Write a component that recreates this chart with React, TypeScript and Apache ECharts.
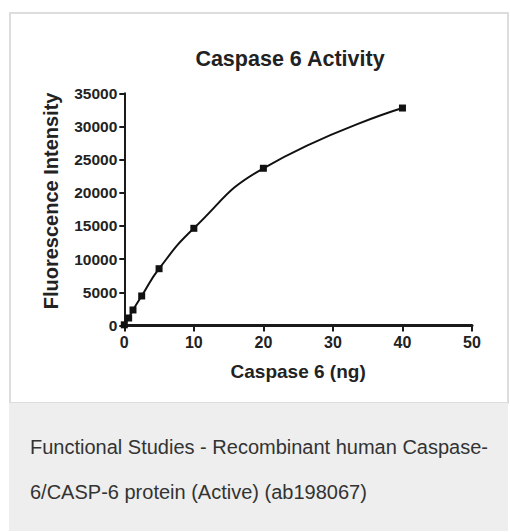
import React, { useEffect, useRef } from "react";
import * as echarts from "echarts";

// Data
const doseNg = [0, 0.625, 1.25, 2.5, 5, 10, 20, 40];
const fluorescence = [100, 1130, 2340, 4450, 8560, 14650, 23700, 32780];

const chartTitle = "Caspase 6 Activity";
const xAxisTitle = "Caspase 6 (ng)";
const yAxisTitle = "Fluorescence Intensity";
const captionLines = [
  "Functional Studies - Recombinant human Caspase-",
  "6/CASP-6 protein (Active) (ab198067)",
];

const FONT = "'Liberation Sans', Arial, Helvetica, sans-serif";
const INK = "#1a1a1a";

export default function App() {
  const ref = useRef<HTMLDivElement>(null);

  useEffect(() => {
    if (!ref.current) return;
    const chart = echarts.init(ref.current, undefined, { renderer: "svg" });
    const points = doseNg.map((x, i) => [x, fluorescence[i]]);
    chart.setOption({
      animation: false,
      backgroundColor: "#ffffff",
      title: {
        text: chartTitle,
        left: 290,
        top: 48,
        textAlign: "center",
        padding: 0,
        textStyle: { fontFamily: FONT, fontSize: 21.5, fontWeight: "bold", color: "#222" },
      },
      graphic: [
        {
          type: "rect",
          z: -10,
          shape: { x: 10, y: 13, width: 498, height: 390 },
          style: { fill: "#ffffff", stroke: "#dddddd", lineWidth: 2 },
        },
        {
          type: "rect",
          z: -9,
          shape: { x: 9, y: 403, width: 499, height: 128 },
          style: { fill: "#edeeed" },
        },
        {
          type: "text",
          z: 5,
          x: 30,
          y: 437,
          style: { text: captionLines[0], fontFamily: FONT, fontSize: 20, fill: "#333", verticalAlign: "top" },
        },
        {
          type: "text",
          z: 5,
          x: 30,
          y: 482,
          style: { text: captionLines[1], fontFamily: FONT, fontSize: 20, fill: "#333", verticalAlign: "top" },
        },
      ],
      grid: { left: 124.3, top: 93.3, right: 38, bottom: 206.5 },
      xAxis: {
        type: "value",
        min: 0,
        max: 50,
        interval: 10,
        name: xAxisTitle,
        nameLocation: "middle",
        nameGap: 36,
        nameTextStyle: { fontFamily: FONT, fontSize: 19, fontWeight: "bold", color: "#222" },
        axisLine: { show: true, onZero: false, lineStyle: { color: INK, width: 3 } },
        axisTick: { show: true, length: 6, lineStyle: { color: INK, width: 2 } },
        axisLabel: {
          fontFamily: FONT, fontSize: 16, fontWeight: "bold", color: "#222", margin: 9,
          formatter: (v: number) => String(v),
        },
        splitLine: { show: false },
      },
      yAxis: {
        type: "value",
        min: 0,
        max: 35000,
        interval: 5000,
        name: yAxisTitle,
        nameLocation: "middle",
        nameGap: 63,
        nameTextStyle: { fontFamily: FONT, fontSize: 20, fontWeight: "bold", color: "#222", padding: [0, 0, 0, 17] },
        axisLine: { show: true, onZero: false, lineStyle: { color: INK, width: 2 } },
        axisTick: { show: true, length: 5, lineStyle: { color: INK, width: 2 } },
        axisLabel: {
          fontFamily: FONT, fontSize: 15.5, fontWeight: "bold", color: "#222", margin: 7,
          formatter: (v: number) => String(v),
        },
        splitLine: { show: false },
      },
      series: [
        {
          type: "line",
          data: points,
          smooth: 0.5,
          symbol: "rect",
          symbolSize: 7,
          showAllSymbol: true,
          itemStyle: { color: "#111" },
          lineStyle: { color: "#111", width: 2 },
          z: 3,
        },
      ],
    });
    return () => chart.dispose();
  }, []);

  return (
    <div
      ref={ref}
      style={{ position: "absolute", left: 0, top: 0, width: 510, height: 532 }}
    />
  );
}
